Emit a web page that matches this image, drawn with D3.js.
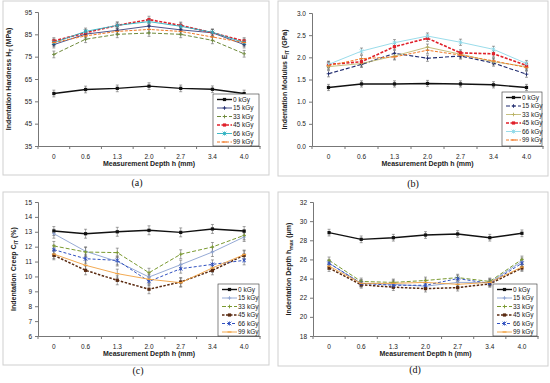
<html>
<body style="margin:0;background:#fff">
<script src="https://d3js.org/d3.v7.min.js"></script>
<div id="main"></div>
<script>
// categories and series
var depths = ["0", "0.6", "1.3", "2.0", "2.7", "3.4", "4.0"];
var doses = ["0 kGy", "15 kGy", "33 kGy", "45 kGy", "66 kGy", "99 kGy"];

// (a) hardness, MPa - one row per dose
var hardness = [
  [58.5, 60.3, 60.8, 61.8, 60.8, 60.4, 58.5],
  [80.4, 85.1, 86.8, 88.7, 87.0, 85.7, 80.4],
  [76.0, 82.8, 85.0, 85.6, 85.0, 82.3, 76.3],
  [82.0, 85.7, 89.0, 91.6, 89.0, 85.7, 82.0],
  [81.3, 86.3, 89.0, 90.7, 88.6, 85.9, 81.3],
  [81.3, 84.3, 86.3, 87.2, 86.3, 83.8, 81.3]
];
// (b) modulus, GPa
var modulus = [
  [1.32, 1.40, 1.40, 1.41, 1.40, 1.38, 1.32],
  [1.63, 1.84, 2.09, 1.98, 2.03, 1.87, 1.62],
  [1.79, 1.86, 2.03, 2.23, 2.07, 1.90, 1.79],
  [1.84, 1.90, 2.24, 2.43, 2.10, 2.08, 1.82],
  [1.84, 2.14, 2.33, 2.48, 2.34, 2.18, 1.86],
  [1.81, 1.97, 2.01, 2.16, 2.05, 1.92, 1.77]
];
// (c) creep, %
var creep = [
  [13.05, 12.87, 13.0, 13.1, 12.96, 13.19, 13.05],
  [12.87, 11.69, 11.0, 9.96, 10.79, 11.64, 12.65],
  [12.05, 11.64, 11.6, 10.25, 11.49, 11.98, 12.76],
  [11.42, 10.41, 9.74, 9.14, 9.63, 10.41, 11.42],
  [11.8, 11.19, 11.08, 9.67, 10.52, 10.81, 11.08],
  [11.5, 10.75, 10.19, 9.81, 9.58, 10.57, 11.47]
];
// (d) max depth, um
var depthMax = [
  [28.8, 28.1, 28.27, 28.55, 28.66, 28.27, 28.73],
  [25.6, 23.5, 23.4, 23.2, 23.6, 23.6, 25.8],
  [25.9, 23.7, 23.6, 23.8, 24.1, 23.7, 26.0],
  [25.1, 23.35, 23.1, 22.95, 23.05, 23.45, 25.1],
  [25.6, 23.5, 23.3, 23.3, 24.0, 23.5, 25.6],
  [25.3, 23.5, 23.5, 23.6, 23.4, 23.6, 25.2]
];
// estimated error bar half-widths
var errA = [1.5, 1.5, 1.5, 1.5, 1.5, 1.5];
var errB = [0.07, 0.07, 0.07, 0.07, 0.07, 0.07];
var errC = [0.3, 0.3, 0.3, 0.3, 0.3, 0.3];
var errD = [0.35, 0.35, 0.35, 0.35, 0.35, 0.35];

var svg = d3.select("#main").append("svg")
    .attr("width", 550).attr("height", 383)
    .style("font-family", "'Liberation Sans', Arial, sans-serif");

// line styles for each panel
var stylesAB = {
  a: [
    { c: "#111", w: 1.4, dash: null, m: "square" },
    { c: "#1f2a6e", w: 0.8, dash: null, m: "plus" },
    { c: "#6e8a3a", w: 1, dash: "4,2", m: "plus" },
    { c: "#e0202a", w: 1.6, dash: "3,1.5", m: "square" },
    { c: "#2ab0c0", w: 0.9, dash: null, m: "star" },
    { c: "#f07a28", w: 1, dash: "3,1.5", m: "dash" }
  ],
  b: [
    { c: "#111", w: 1.4, dash: null, m: "square" },
    { c: "#1f2a6e", w: 1.1, dash: "4,2", m: "plus" },
    { c: "#b8b060", w: 0.8, dash: null, m: "plus" },
    { c: "#e0202a", w: 1.6, dash: "3,1.5", m: "square" },
    { c: "#8fd8e8", w: 0.9, dash: null, m: "star" },
    { c: "#f07a28", w: 1, dash: "3,1.5", m: "dash" }
  ],
  c: [
    { c: "#111", w: 1.4, dash: null, m: "square" },
    { c: "#8aa0d0", w: 0.9, dash: null, m: "plus" },
    { c: "#7a9a30", w: 1, dash: "4,2", m: "plus" },
    { c: "#5a2a10", w: 1.5, dash: "2.5,1.5", m: "square" },
    { c: "#3050c0", w: 1, dash: "3,2", m: "star" },
    { c: "#f0a040", w: 0.9, dash: null, m: "dash" }
  ]
};

var panels = [
  { data: hardness, err: errA, st: stylesAB.a, frame: [3, 1, 266, 174], left: 38, right: 260, top: 12, bottom: 146,
    domain: [35, 95], ticks: [35, 45, 55, 65, 75, 85, 95], fmt: d3.format("d"),
    title: ["Indentation Hardness H", "T", " (MPa)"], titleX: 11, legend: [213, 94], cap: "(a)", capXY: [137, 186] },
  { data: modulus, err: errB, st: stylesAB.b, frame: [278, 1, 270, 175], left: 312, right: 543, top: 13, bottom: 146,
    domain: [0, 3], ticks: [0, 0.5, 1, 1.5, 2, 2.5, 3], fmt: d3.format(".1f"),
    title: ["Indentation Modulus E", "IT", " (GPa)"], titleX: 287, legend: [502, 92], cap: "(b)", capXY: [413, 187] },
  { data: creep, err: errC, st: stylesAB.c, frame: [3, 192, 266, 173], left: 38, right: 260, top: 202, bottom: 336,
    domain: [6, 15], ticks: d3.range(6, 16), fmt: d3.format("d"),
    title: ["Indentation Creep C", "IT", " (%)"], titleX: 16, legend: [218, 284], cap: "(c)", capXY: [138, 374] },
  { data: depthMax, err: errD, st: stylesAB.c, frame: [278, 192, 270, 174], left: 313, right: 538, top: 202, bottom: 336,
    domain: [18, 32], ticks: d3.range(18, 33, 2), fmt: d3.format("d"),
    title: ["Indentation Depth h", "max", " (\u03bcm)"], titleX: 291, legend: [493, 284], cap: "(d)", capXY: [415, 373] }
];

function marker(g, type, cx, cy, color) {
  if (type == "square") {
    g.append("rect").attr("x", cx - 1.6).attr("y", cy - 1.6).attr("width", 3.2).attr("height", 3.2).attr("fill", color);
  } else if (type == "plus") {
    g.append("path").attr("d", "M" + (cx - 1.8) + "," + cy + "h3.6M" + cx + "," + (cy - 1.8) + "v3.6")
      .attr("stroke", color).attr("stroke-width", 0.9);
  } else if (type == "star") {
    g.append("path").attr("d", "M" + (cx - 1.8) + "," + (cy - 1.8) + "l3.6,3.6M" + (cx - 1.8) + "," + (cy + 1.8) + "l3.6,-3.6M" + cx + "," + (cy - 2) + "v4")
      .attr("stroke", color).attr("stroke-width", 0.9);
  } else {
    g.append("path").attr("d", "M" + (cx - 2) + "," + cy + "h4").attr("stroke", color).attr("stroke-width", 1.2);
  }
}

panels.forEach(function (p) {
  var g = svg.append("g");

  g.append("rect")
    .attr("x", p.frame[0]).attr("y", p.frame[1])
    .attr("width", p.frame[2]).attr("height", p.frame[3])
    .attr("fill", "white").attr("stroke", "#cfcfcf").attr("stroke-width", 1);

  var x = d3.scaleBand().domain(depths).range([p.left, p.right]);
  var y = d3.scaleLinear().domain(p.domain).range([p.bottom, p.top]);

  // y axis
  var ya = g.append("g")
    .attr("transform", "translate(" + p.left + ",0)")
    .call(d3.axisLeft(y).tickValues(p.ticks).tickFormat(p.fmt).tickSize(3).tickPadding(3));
  ya.select(".domain").attr("stroke", "#777");
  ya.selectAll(".tick line").attr("stroke", "#777");
  ya.selectAll("text").attr("font-size", 6.5).attr("fill", "#222").attr("font-family", null);

  // x axis, ticks between categories like excel
  var xa = g.append("g")
    .attr("transform", "translate(0," + p.bottom + ")")
    .call(d3.axisBottom(x).tickSize(0).tickPadding(8).tickSizeOuter(0));
  xa.select(".domain").attr("stroke", "#777");
  xa.selectAll("text").attr("font-size", 6.5).attr("fill", "#222").attr("font-family", null);
  g.selectAll(null).data(d3.range(depths.length + 1)).enter().append("line")
    .attr("x1", function (i) { return p.left + i * x.step(); })
    .attr("x2", function (i) { return p.left + i * x.step(); })
    .attr("y1", p.bottom).attr("y2", p.bottom + 3)
    .attr("stroke", "#777");

  // axis titles
  g.append("text")
    .attr("x", (p.left + p.right) / 2).attr("y", p.bottom + 20)
    .attr("text-anchor", "middle").attr("font-size", 7).attr("font-weight", "bold").attr("fill", "#222")
    .text("Measurement Depth h (mm)");
  var yt = g.append("text")
    .attr("transform", "translate(" + p.titleX + "," + ((p.top + p.bottom) / 2) + ") rotate(-90)")
    .attr("text-anchor", "middle").attr("font-size", 7).attr("font-weight", "bold").attr("fill", "#222");
  yt.append("tspan").text(p.title[0]);
  yt.append("tspan").attr("font-size", 5).attr("dy", 1.5).text(p.title[1]);
  yt.append("tspan").attr("dy", -1.5).text(p.title[2]);

  // series: error bars, lines, markers
  var line = d3.line()
    .x(function (d, i) { return x(depths[i]) + x.bandwidth() / 2; })
    .y(function (d) { return y(d); });

  p.data.forEach(function (vals, s) {
    var st = p.st[s];
    var sg = g.append("g");
    vals.forEach(function (v, i) {
      var cx = x(depths[i]) + x.bandwidth() / 2;
      var e = p.err[s];
      sg.append("path")
        .attr("d", "M" + cx + "," + y(v - e) + "V" + y(v + e) +
          "M" + (cx - 1.5) + "," + y(v - e) + "h3M" + (cx - 1.5) + "," + y(v + e) + "h3")
        .attr("stroke", "#666").attr("stroke-width", 0.6).attr("fill", "none");
    });
  });
  p.data.forEach(function (vals, s) {
    var st = p.st[s];
    g.append("path").datum(vals)
      .attr("d", line)
      .attr("fill", "none").attr("stroke", st.c).attr("stroke-width", st.w)
      .attr("stroke-dasharray", st.dash);
    vals.forEach(function (v, i) {
      marker(g, st.m, x(depths[i]) + x.bandwidth() / 2, y(v), st.c);
    });
  });

  // legend
  var lx = p.legend[0], ly = p.legend[1];
  var lw = (p.right - 1) - lx, lh = p.bottom - ly;
  g.append("rect").attr("x", lx).attr("y", ly).attr("width", lw).attr("height", lh)
    .attr("fill", "white").attr("stroke", "#333").attr("stroke-width", 0.6);
  doses.forEach(function (d, s) {
    var st = p.st[s];
    var yy = ly + 5.5 + s * 8.5;
    g.append("line").attr("x1", lx + 4).attr("x2", lx + 19).attr("y1", yy).attr("y2", yy)
      .attr("stroke", st.c).attr("stroke-width", st.w).attr("stroke-dasharray", st.dash);
    marker(g, st.m, lx + 11.5, yy, st.c);
    g.append("text").attr("x", lx + 20).attr("y", yy + 2.3)
      .attr("font-size", 6.5).attr("fill", "#222").text(d);
  });

  // caption
  svg.append("text")
    .attr("x", p.capXY[0]).attr("y", p.capXY[1])
    .attr("text-anchor", "middle").attr("font-size", 10)
    .attr("font-family", "'Liberation Serif', 'Times New Roman', serif").attr("fill", "#111")
    .text(p.cap);
});
</script>
</body>
</html>
